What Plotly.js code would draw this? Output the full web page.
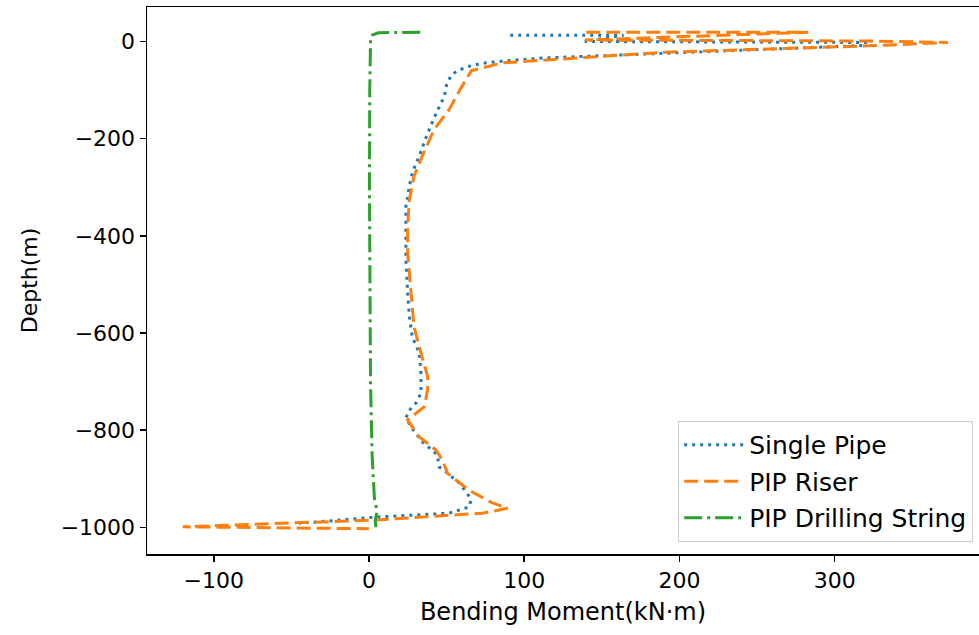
<!DOCTYPE html>
<html>
<head>
<meta charset="utf-8">
<script src="https://cdn.plot.ly/plotly-3.0.1.min.js"></script>
<style>html,body{margin:0;padding:0;background:#fff;}#chart{width:979px;height:635px;}</style>
</head>
<body>
<div id="chart"></div>
<script>
// Single Pipe (bending moment kN·m, depth m)
const singlePipeX = [91, 164, 139, 320, 320, 244, 112, 87, 73, 64.6, 57, 52.8, 50, 48.5, 42, 36.7, 32.4, 27.9, 26, 23.8, 23.8, 23.8, 24.9, 26, 27.9, 32.4, 33.5, 33.5, 30.3, 26, 23.8, 27, 34.3, 44, 45.3, 49.6, 58.2, 63.3, 65.7, 64.6, 51.7, 4.5, -45];
const singlePipeDepth = [13, 13, 0, -2, -8, -18, -34, -40, -45, -51, -60, -70, -90, -113, -157, -198, -236, -270, -298, -340, -380, -450, -517, -566, -608, -641, -683, -724, -744, -759, -775, -793, -824, -851, -876, -886, -909, -930, -944, -958, -971, -979, -992];

// PIP Riser
const riserX = [140, 283, 139, 322, 373, 322, 191, 86, 66, 58.5, 51.7, 42, 34.3, 29, 26, 24.9, 24.9, 26, 27, 29, 33.5, 37.8, 37.8, 35.6, 24.9, 32.4, 43.2, 47.4, 50.6, 64.6, 79.6, 89.3, 73, 4.5, -120, 0];
const riserDepth = [19, 19, 3, 1, -2, -9, -22, -44, -60, -100, -140, -181, -236, -278, -326, -381, -435, -476, -517, -587, -641, -690, -717, -752, -779, -814, -841, -862, -889, -924, -950, -961, -971, -985, -999, -1003];

// PIP Drilling String
const drillX = [33, 6, 2, 1, 1, 0.5, 0.3, 0.5, 1, 2, 3.5, 5.3, 4, 4.5];
const drillDepth = [19, 18, 13, 6, -2, -100, -300, -500, -700, -850, -940, -968, -985, -1000];

const seriesNames = ["Single Pipe", "PIP Riser", "PIP Drilling String"];
const xTicks = [-100, 0, 100, 200, 300];
const yTicks = [0, -200, -400, -600, -800, -1000];

const FONT = "DejaVu Sans, sans-serif";

const traces = [
  {x: singlePipeX, y: singlePipeDepth, name: seriesNames[0], mode: "lines", legendgroup: "a",
   line: {color: "#1f77b4", width: 3, dash: "3px,5px"}},
  {x: riserX, y: riserDepth, name: seriesNames[1], mode: "lines", legendgroup: "b",
   line: {color: "#ff7f0e", width: 3, dash: "14px,6px"}},
  {x: drillX, y: drillDepth, name: seriesNames[2], mode: "lines", legendgroup: "c",
   line: {color: "#2ca02c", width: 3, dash: "18px,5px,3px,5px"}}
];

const layout = {
  width: 979, height: 635,
  margin: {l: 147, r: 0, t: 7, b: 81, pad: 0},
  paper_bgcolor: "#fff", plot_bgcolor: "#fff",
  font: {family: FONT, size: 22, color: "#000"},
  showlegend: true,
  legend: {
    x: 0.993, xanchor: "right", y: 0.022, yanchor: "bottom",
    bgcolor: "rgba(255,255,255,0.8)", bordercolor: "#cccccc", borderwidth: 1,
    font: {family: FONT, size: 25, color: "#000"},
    tracegroupgap: 1, itemwidth: 60
  },
  xaxis: {
    range: [-143, 393], tickvals: xTicks, ticktext: xTicks.map(v => v < 0 ? "\u2212" + Math.abs(v) : String(v)),
    showline: true, mirror: true, linecolor: "#000", linewidth: 1.5,
    ticks: "outside", ticklen: 6, tickwidth: 1.5, tickcolor: "#000",
    showgrid: false, zeroline: false,
    tickfont: {family: FONT, size: 22, color: "#000"},
    title: {text: "Bending Moment(kN\u00b7m)", font: {family: FONT, size: 24, color: "#000"}, standoff: 11}
  },
  yaxis: {
    range: [-1055, 71], tickvals: yTicks, ticktext: yTicks.map(v => v < 0 ? "\u2212" + Math.abs(v) : String(v)),
    showline: true, mirror: false, linecolor: "#000", linewidth: 1.5,
    ticks: "outside", ticklen: 6, tickwidth: 1.5, tickcolor: "#000",
    showgrid: false, zeroline: false,
    tickfont: {family: FONT, size: 22, color: "#000"},
    title: {text: "Depth(m)", font: {family: FONT, size: 22, color: "#000"}, standoff: 17}
  }
};

Plotly.newPlot("chart", traces, layout, {staticPlot: true, displayModeBar: false});
</script>
</body>
</html>
